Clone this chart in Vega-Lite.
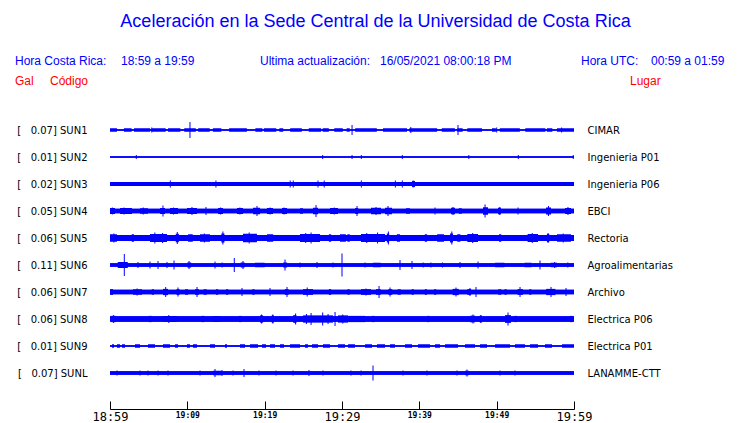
{
  "$schema": "https://vega.github.io/schema/vega-lite/v6.json",
  "autosize": "none",
  "width": 464,
  "height": 297,
  "padding": {"left": 110, "top": 103, "right": 166, "bottom": 23},
  "background": "white",
  "config": {"view": {"stroke": null}, "font": "Liberation Sans"},
  "datasets": {
    "stations": [
      {"s": "SUN1", "lab": "[\u00a0\u00a0\u00a00.07] SUN1", "place": "CIMAR", "base": 1.5},
      {"s": "SUN2", "lab": "[\u00a0\u00a0\u00a00.01] SUN2", "place": "Ingenieria P01", "base": 1.5},
      {"s": "SUN3", "lab": "[\u00a0\u00a0\u00a00.02] SUN3", "place": "Ingenieria P06", "base": 4},
      {"s": "SUN4", "lab": "[\u00a0\u00a0\u00a00.05] SUN4", "place": "EBCI", "base": 4.5},
      {"s": "SUN5", "lab": "[\u00a0\u00a0\u00a00.06] SUN5", "place": "Rectoria", "base": 6},
      {"s": "SUN6", "lab": "[\u00a0\u00a0\u00a00.11] SUN6", "place": "Agroalimentarias", "base": 3.5},
      {"s": "SUN7", "lab": "[\u00a0\u00a0\u00a00.06] SUN7", "place": "Archivo", "base": 4.5},
      {"s": "SUN8", "lab": "[\u00a0\u00a0\u00a00.06] SUN8", "place": "Electrica P06", "base": 5.5},
      {"s": "SUN9", "lab": "[\u00a0\u00a0\u00a00.01] SUN9", "place": "Electrica P01", "base": 1.5},
      {"s": "SUNL", "lab": "[\u00a0\u00a0\u00a00.07] SUNL", "place": "LANAMME-CTT", "base": 3.5}
    ],
    "seg": [
      {"s":"SUN1","t0":0,"t1":0.9,"a":3.5},{"s":"SUN1","t0":1.8,"t1":2.8,"a":3.5},{"s":"SUN1","t0":3.1,"t1":5.2,"a":3.5},{"s":"SUN1","t0":5.4,"t1":7.2,"a":3.5},{"s":"SUN1","t0":7.5,"t1":9.1,"a":3.5},{"s":"SUN1","t0":9.6,"t1":11.1,"a":3.5},{"s":"SUN1","t0":11.4,"t1":12.9,"a":3.5},{"s":"SUN1","t0":13.3,"t1":14.4,"a":3.5},{"s":"SUN1","t0":15.4,"t1":17.7,"a":3.5},{"s":"SUN1","t0":18.8,"t1":19.7,"a":3.5},{"s":"SUN1","t0":19.9,"t1":21.5,"a":3.5},{"s":"SUN1","t0":21.9,"t1":22.4,"a":3.5},{"s":"SUN1","t0":23.3,"t1":24.8,"a":3.5},{"s":"SUN1","t0":25.7,"t1":27.3,"a":3.5},{"s":"SUN1","t0":27.5,"t1":28.3,"a":3.5},{"s":"SUN1","t0":29.0,"t1":30.1,"a":3.5},{"s":"SUN1","t0":30.6,"t1":31.0,"a":3.5},{"s":"SUN1","t0":31.7,"t1":34.5,"a":3.5},{"s":"SUN1","t0":35.3,"t1":38.4,"a":3.5},{"s":"SUN1","t0":38.7,"t1":42.3,"a":3.5},{"s":"SUN1","t0":42.9,"t1":44.6,"a":3.5},{"s":"SUN1","t0":44.9,"t1":45.6,"a":3.5},{"s":"SUN1","t0":46.2,"t1":48.1,"a":3.5},{"s":"SUN1","t0":49.4,"t1":49.9,"a":3.5},{"s":"SUN1","t0":50.4,"t1":53.0,"a":3.5},{"s":"SUN1","t0":53.7,"t1":56.3,"a":3.5},{"s":"SUN1","t0":56.5,"t1":57.2,"a":3.5},{"s":"SUN1","t0":57.8,"t1":60,"a":3.5},
      {"s":"SUN3","t0":39.05,"t1":39.44,"a":6},
      {"s":"SUN4","t0":0,"t1":0.65,"a":6},{"s":"SUN4","t0":1.29,"t1":2.84,"a":6},{"s":"SUN4","t0":3.88,"t1":4.91,"a":5.5},{"s":"SUN4","t0":6.47,"t1":7.11,"a":6},{"s":"SUN4","t0":7.76,"t1":8.79,"a":6},{"s":"SUN4","t0":9.96,"t1":11.25,"a":6},{"s":"SUN4","t0":13.97,"t1":14.61,"a":6},{"s":"SUN4","t0":16.42,"t1":17.2,"a":6},{"s":"SUN4","t0":18.49,"t1":19.4,"a":6.5},{"s":"SUN4","t0":20.3,"t1":21.08,"a":6},{"s":"SUN4","t0":22.24,"t1":22.89,"a":6},{"s":"SUN4","t0":24.57,"t1":24.96,"a":5.5},{"s":"SUN4","t0":26.25,"t1":26.9,"a":6.5},{"s":"SUN4","t0":28.45,"t1":29.48,"a":6},{"s":"SUN4","t0":31.7,"t1":32.1,"a":6},{"s":"SUN4","t0":33.75,"t1":35.04,"a":6.5},{"s":"SUN4","t0":35.56,"t1":36.47,"a":6.5},{"s":"SUN4","t0":38.28,"t1":38.79,"a":5.5},{"s":"SUN4","t0":44.1,"t1":44.61,"a":6.5},{"s":"SUN4","t0":45.1,"t1":45.5,"a":5.5},{"s":"SUN4","t0":48.23,"t1":48.88,"a":7.5},{"s":"SUN4","t0":50.17,"t1":50.56,"a":6.5},{"s":"SUN4","t0":56.38,"t1":57.03,"a":7},{"s":"SUN4","t0":58.84,"t1":59.61,"a":6},
      {"s":"SUN5","t0":0,"t1":0.9,"a":7.5},{"s":"SUN5","t0":2.8,"t1":3.1,"a":7.5},{"s":"SUN5","t0":5.17,"t1":7.37,"a":8},{"s":"SUN5","t0":8.5,"t1":8.9,"a":8.5},{"s":"SUN5","t0":10.1,"t1":10.7,"a":7.5},{"s":"SUN5","t0":11.64,"t1":12.93,"a":7.5},{"s":"SUN5","t0":14.4,"t1":14.8,"a":9},{"s":"SUN5","t0":17.2,"t1":19.0,"a":8.5},{"s":"SUN5","t0":20.3,"t1":21.1,"a":7.5},{"s":"SUN5","t0":24.57,"t1":27.16,"a":8},{"s":"SUN5","t0":28.3,"t1":28.6,"a":7.5},{"s":"SUN5","t0":29.74,"t1":30.5,"a":7.5},{"s":"SUN5","t0":30.7,"t1":31.0,"a":7.5},{"s":"SUN5","t0":32.46,"t1":35.56,"a":8},{"s":"SUN5","t0":35.8,"t1":36.1,"a":9},{"s":"SUN5","t0":37.1,"t1":37.5,"a":7.5},{"s":"SUN5","t0":40.7,"t1":41.0,"a":7.5},{"s":"SUN5","t0":42.3,"t1":43.2,"a":7.5},{"s":"SUN5","t0":43.97,"t1":44.35,"a":9},{"s":"SUN5","t0":44.9,"t1":45.3,"a":7.5},{"s":"SUN5","t0":46.2,"t1":47.59,"a":8},{"s":"SUN5","t0":50.3,"t1":50.6,"a":7.5},{"s":"SUN5","t0":54.0,"t1":55.35,"a":8},{"s":"SUN5","t0":56.5,"t1":56.8,"a":8},{"s":"SUN5","t0":57.8,"t1":59.6,"a":7.5},
      {"s":"SUN6","t0":1.0,"t1":2.3,"a":6},{"s":"SUN6","t0":10.0,"t1":10.5,"a":5},{"s":"SUN6","t0":16.9,"t1":17.4,"a":5},{"s":"SUN6","t0":18.75,"t1":20.0,"a":4.5},{"s":"SUN6","t0":22.4,"t1":22.9,"a":5},{"s":"SUN6","t0":34.0,"t1":35.0,"a":4.5},{"s":"SUN6","t0":49.8,"t1":51.0,"a":4.5},{"s":"SUN6","t0":53.6,"t1":54.5,"a":4.5},{"s":"SUN6","t0":57.0,"t1":57.8,"a":4.5},
      {"s":"SUN7","t0":0,"t1":0.4,"a":5.75},{"s":"SUN7","t0":2.97,"t1":4.14,"a":5.5},{"s":"SUN7","t0":5.4,"t1":5.7,"a":5.5},{"s":"SUN7","t0":6.85,"t1":7.5,"a":6.25},{"s":"SUN7","t0":8.6,"t1":9.0,"a":5.75},{"s":"SUN7","t0":9.7,"t1":10.1,"a":5.5},{"s":"SUN7","t0":11.0,"t1":11.5,"a":5.75},{"s":"SUN7","t0":12.1,"t1":12.5,"a":5.5},{"s":"SUN7","t0":13.7,"t1":14.0,"a":5.5},{"s":"SUN7","t0":15.0,"t1":15.3,"a":5.5},{"s":"SUN7","t0":18.4,"t1":18.7,"a":5.5},{"s":"SUN7","t0":22.6,"t1":23.1,"a":5.75},{"s":"SUN7","t0":24.96,"t1":26.25,"a":5.75},{"s":"SUN7","t0":28.3,"t1":28.6,"a":5.75},{"s":"SUN7","t0":30.7,"t1":31.0,"a":5.5},{"s":"SUN7","t0":32.46,"t1":33.75,"a":5.75},{"s":"SUN7","t0":34.4,"t1":35.0,"a":5.75},{"s":"SUN7","t0":36.0,"t1":36.5,"a":5.75},{"s":"SUN7","t0":37.2,"t1":37.6,"a":5.5},{"s":"SUN7","t0":39.0,"t1":39.3,"a":5.5},{"s":"SUN7","t0":40.7,"t1":41.0,"a":5.5},{"s":"SUN7","t0":41.9,"t1":42.2,"a":5.5},{"s":"SUN7","t0":44.3,"t1":45.1,"a":6.25},{"s":"SUN7","t0":46.2,"t1":46.7,"a":5.75},{"s":"SUN7","t0":50.2,"t1":50.6,"a":5.5},{"s":"SUN7","t0":51.0,"t1":51.3,"a":5.5},{"s":"SUN7","t0":52.7,"t1":53.4,"a":5.75},{"s":"SUN7","t0":54.2,"t1":54.5,"a":5.5},{"s":"SUN7","t0":56.4,"t1":57.6,"a":6.25},
      {"s":"SUN8","t0":0.2,"t1":0.7,"a":6.5},{"s":"SUN8","t0":5.0,"t1":5.4,"a":6.25},{"s":"SUN8","t0":6.85,"t1":8.66,"a":6},{"s":"SUN8","t0":11.8,"t1":12.2,"a":6.25},{"s":"SUN8","t0":13.3,"t1":14.2,"a":6},{"s":"SUN8","t0":16.7,"t1":17.0,"a":6.25},{"s":"SUN8","t0":19.4,"t1":19.8,"a":7.25},{"s":"SUN8","t0":20.9,"t1":21.2,"a":7.25},{"s":"SUN8","t0":23.7,"t1":24.1,"a":7.75},{"s":"SUN8","t0":24.96,"t1":28.84,"a":7.25},{"s":"SUN8","t0":29.48,"t1":30.78,"a":7.25},{"s":"SUN8","t0":30.8,"t1":33.0,"a":6.25},{"s":"SUN8","t0":33.9,"t1":34.2,"a":6.25},{"s":"SUN8","t0":41.0,"t1":41.3,"a":6.25},{"s":"SUN8","t0":46.6,"t1":47.2,"a":6.75},{"s":"SUN8","t0":47.8,"t1":48.1,"a":6.75},{"s":"SUN8","t0":51.08,"t1":51.85,"a":7.75},{"s":"SUN8","t0":52.3,"t1":52.6,"a":6.25},{"s":"SUN8","t0":59.5,"t1":59.8,"a":6.25},
      {"s":"SUN9","t0":0.26,"t1":0.52,"a":3.5},{"s":"SUN9","t0":0.91,"t1":1.29,"a":3.5},{"s":"SUN9","t0":1.55,"t1":1.94,"a":3.5},{"s":"SUN9","t0":3.23,"t1":3.88,"a":3.5},{"s":"SUN9","t0":4.91,"t1":5.82,"a":3.5},{"s":"SUN9","t0":6.85,"t1":7.76,"a":3.5},{"s":"SUN9","t0":8.41,"t1":8.79,"a":3.5},{"s":"SUN9","t0":9.96,"t1":10.34,"a":3.5},{"s":"SUN9","t0":10.73,"t1":11.25,"a":3.5},{"s":"SUN9","t0":12.93,"t1":13.58,"a":3.5},{"s":"SUN9","t0":14.87,"t1":15.13,"a":3.5},{"s":"SUN9","t0":16.81,"t1":17.46,"a":3.5},{"s":"SUN9","t0":18.1,"t1":19.14,"a":3.5},{"s":"SUN9","t0":19.66,"t1":20.17,"a":3.5},{"s":"SUN9","t0":20.69,"t1":21.34,"a":3.5},{"s":"SUN9","t0":21.98,"t1":22.5,"a":3.5},{"s":"SUN9","t0":23.28,"t1":24.57,"a":3.5},{"s":"SUN9","t0":25.22,"t1":25.6,"a":3.5},{"s":"SUN9","t0":26.12,"t1":26.9,"a":3.5},{"s":"SUN9","t0":27.54,"t1":28.45,"a":3.5},{"s":"SUN9","t0":29.48,"t1":30.39,"a":3.5},{"s":"SUN9","t0":30.78,"t1":31.68,"a":3.5},{"s":"SUN9","t0":32.98,"t1":33.88,"a":3.5},{"s":"SUN9","t0":34.53,"t1":35.56,"a":3.5},{"s":"SUN9","t0":36.21,"t1":36.85,"a":3.5},{"s":"SUN9","t0":38.15,"t1":39.05,"a":3.5},{"s":"SUN9","t0":39.83,"t1":41.38,"a":3.5},{"s":"SUN9","t0":42.03,"t1":42.67,"a":3.5},{"s":"SUN9","t0":43.32,"t1":45.0,"a":3.5},{"s":"SUN9","t0":45.91,"t1":47.2,"a":3.5},{"s":"SUN9","t0":47.84,"t1":48.75,"a":3.5},{"s":"SUN9","t0":49.79,"t1":51.72,"a":3.5},{"s":"SUN9","t0":52.37,"t1":53.66,"a":3.5},{"s":"SUN9","t0":54.31,"t1":55.35,"a":3.5},{"s":"SUN9","t0":56.25,"t1":57.16,"a":3.5},{"s":"SUN9","t0":58.45,"t1":60,"a":3.5},
      {"s":"SUNL","t0":13.3,"t1":14.4,"a":4.5},{"s":"SUNL","t0":45.9,"t1":46.4,"a":4.5}
    ],
    "spk": [
      {"s":"SUN1","t":5.4,"a":5},{"s":"SUN1","t":10.34,"a":16},{"s":"SUN1","t":31.3,"a":10},{"s":"SUN1","t":38.9,"a":6},{"s":"SUN1","t":45.0,"a":10},{"s":"SUN1","t":50.0,"a":5},{"s":"SUN1","t":58.4,"a":5},
      {"s":"SUN2","t":3.4,"a":4},{"s":"SUN2","t":27.5,"a":4},{"s":"SUN2","t":31.3,"a":4},{"s":"SUN2","t":32.5,"a":4},{"s":"SUN2","t":37.8,"a":4},{"s":"SUN2","t":46.4,"a":4},{"s":"SUN2","t":52.8,"a":4},{"s":"SUN2","t":59.9,"a":4},
      {"s":"SUN3","t":7.8,"a":7},{"s":"SUN3","t":13.7,"a":7},{"s":"SUN3","t":23.3,"a":7},{"s":"SUN3","t":23.7,"a":7},{"s":"SUN3","t":26.9,"a":7},{"s":"SUN3","t":27.7,"a":7},{"s":"SUN3","t":32.5,"a":7},{"s":"SUN3","t":36.9,"a":7},{"s":"SUN3","t":37.8,"a":7},{"s":"SUN3","t":39.2,"a":7},
      {"s":"SUN4","t":0.3,"a":7},{"s":"SUN4","t":1.8,"a":7},{"s":"SUN4","t":4.3,"a":7},{"s":"SUN4","t":6.85,"a":11},{"s":"SUN4","t":8.2,"a":7},{"s":"SUN4","t":10.6,"a":8},{"s":"SUN4","t":12.41,"a":8},{"s":"SUN4","t":14.3,"a":7},{"s":"SUN4","t":16.8,"a":7},{"s":"SUN4","t":19.01,"a":10},{"s":"SUN4","t":20.7,"a":7},{"s":"SUN4","t":22.5,"a":7},{"s":"SUN4","t":26.64,"a":12},{"s":"SUN4","t":29.0,"a":7},{"s":"SUN4","t":31.94,"a":10},{"s":"SUN4","t":34.4,"a":8},{"s":"SUN4","t":35.95,"a":10},{"s":"SUN4","t":42.03,"a":7},{"s":"SUN4","t":44.35,"a":8},{"s":"SUN4","t":48.5,"a":13},{"s":"SUN4","t":50.4,"a":8},{"s":"SUN4","t":52.76,"a":7},{"s":"SUN4","t":56.7,"a":10},{"s":"SUN4","t":59.22,"a":8},
      {"s":"SUN5","t":0.5,"a":9},{"s":"SUN5","t":5.8,"a":11},{"s":"SUN5","t":6.8,"a":10},{"s":"SUN5","t":8.7,"a":12},{"s":"SUN5","t":12.2,"a":9},{"s":"SUN5","t":14.6,"a":13},{"s":"SUN5","t":18.0,"a":11},{"s":"SUN5","t":25.3,"a":10},{"s":"SUN5","t":26.0,"a":11},{"s":"SUN5","t":33.2,"a":10},{"s":"SUN5","t":34.6,"a":11},{"s":"SUN5","t":36.0,"a":13},{"s":"SUN5","t":44.2,"a":13},{"s":"SUN5","t":46.9,"a":10},{"s":"SUN5","t":54.6,"a":10},{"s":"SUN5","t":56.65,"a":10},{"s":"SUN5","t":58.6,"a":9},
      {"s":"SUN6","t":1.85,"a":22},{"s":"SUN6","t":3.62,"a":6},{"s":"SUN6","t":5.17,"a":7},{"s":"SUN6","t":6.21,"a":8},{"s":"SUN6","t":7.37,"a":6},{"s":"SUN6","t":8.28,"a":9},{"s":"SUN6","t":10.22,"a":8},{"s":"SUN6","t":13.58,"a":7},{"s":"SUN6","t":14.5,"a":5},{"s":"SUN6","t":16.07,"a":14},{"s":"SUN6","t":17.2,"a":8},{"s":"SUN6","t":22.63,"a":11},{"s":"SUN6","t":24.57,"a":5},{"s":"SUN6","t":26.77,"a":6},{"s":"SUN6","t":28.84,"a":5},{"s":"SUN6","t":30.0,"a":23},{"s":"SUN6","t":32.98,"a":5},{"s":"SUN6","t":37.5,"a":10},{"s":"SUN6","t":39.05,"a":8},{"s":"SUN6","t":40.5,"a":5},{"s":"SUN6","t":41.5,"a":5},{"s":"SUN6","t":43.0,"a":5},{"s":"SUN6","t":45.26,"a":6},{"s":"SUN6","t":47.59,"a":7},{"s":"SUN6","t":55.6,"a":9},{"s":"SUN6","t":57.5,"a":6},{"s":"SUN6","t":59.2,"a":5},
      {"s":"SUN7","t":3.5,"a":7},{"s":"SUN7","t":7.2,"a":10},{"s":"SUN7","t":8.79,"a":9},{"s":"SUN7","t":11.25,"a":10},{"s":"SUN7","t":17.07,"a":8},{"s":"SUN7","t":20.69,"a":8},{"s":"SUN7","t":22.89,"a":10},{"s":"SUN7","t":25.5,"a":9},{"s":"SUN7","t":33.1,"a":7},{"s":"SUN7","t":34.79,"a":12},{"s":"SUN7","t":36.21,"a":9},{"s":"SUN7","t":44.74,"a":9},{"s":"SUN7","t":46.55,"a":8},{"s":"SUN7","t":47.33,"a":10},{"s":"SUN7","t":53.02,"a":10},{"s":"SUN7","t":57.03,"a":10},{"s":"SUN7","t":58.97,"a":8},
      {"s":"SUN8","t":0.45,"a":7.5},{"s":"SUN8","t":7.6,"a":8},{"s":"SUN8","t":19.6,"a":9},{"s":"SUN8","t":21.05,"a":9},{"s":"SUN8","t":24.0,"a":11},{"s":"SUN8","t":25.4,"a":10},{"s":"SUN8","t":26.0,"a":12},{"s":"SUN8","t":27.5,"a":13},{"s":"SUN8","t":28.2,"a":10},{"s":"SUN8","t":29.1,"a":14},{"s":"SUN8","t":30.1,"a":9},{"s":"SUN8","t":46.94,"a":9},{"s":"SUN8","t":47.95,"a":8},{"s":"SUN8","t":51.47,"a":13},
      {"s":"SUNL","t":0.91,"a":5},{"s":"SUNL","t":3.88,"a":5},{"s":"SUNL","t":4.91,"a":5},{"s":"SUNL","t":6.21,"a":5},{"s":"SUNL","t":7.5,"a":5},{"s":"SUNL","t":11.64,"a":5},{"s":"SUNL","t":13.58,"a":8},{"s":"SUNL","t":14.48,"a":6},{"s":"SUNL","t":15.9,"a":5},{"s":"SUNL","t":17.33,"a":8},{"s":"SUNL","t":19.27,"a":5},{"s":"SUNL","t":21.47,"a":5},{"s":"SUNL","t":23.66,"a":5},{"s":"SUNL","t":25.73,"a":6},{"s":"SUNL","t":27.54,"a":5},{"s":"SUNL","t":31.16,"a":5},{"s":"SUNL","t":32.46,"a":5},{"s":"SUNL","t":34.01,"a":15},{"s":"SUNL","t":37.89,"a":5},{"s":"SUNL","t":40.99,"a":5},{"s":"SUNL","t":44.87,"a":5},{"s":"SUNL","t":46.16,"a":7},{"s":"SUNL","t":50.43,"a":5},{"s":"SUNL","t":52.37,"a":5}
    ]
  },
  "layer": [
    {
      "data": {"name": "stations"},
      "mark": {"type": "rule", "color": "#0000ff"},
      "encoding": {
        "y": {"field": "lab", "type": "nominal", "sort": null, "scale": {"type": "point", "padding": 1},
              "axis": {"orient": "left", "title": null, "domain": false, "ticks": false, "labelPadding": 23, "labelFont": "DejaVu Sans", "labelFontSize": 10, "labelColor": "#000000"}},
        "x": {"datum": 0, "type": "quantitative", "scale": {"domain": [0, 60], "nice": false, "zero": false},
              "axis": {"title": null, "grid": false, "offset": 9, "values": [0,5,10,15,20,25,30,35,40,45,50,55,60],
                       "labelExpr": "datum.value % 10 != 0 ? '' : floor((1139 + datum.value) / 60) + ':' + ((1139 + datum.value) % 60 < 10 ? '0' : '') + ((1139 + datum.value) % 60)",
                       "labelFont": "DejaVu Sans Mono",
                       "labelFontSize": {"condition": {"test": "datum.value % 30 == 0", "value": 12}, "value": 8},
                       "labelFontWeight": {"condition": {"test": "datum.value % 30 == 0", "value": "normal"}, "value": "bold"},
                       "labelColor": "#000000", "labelOverlap": false, "labelFlush": false,
                       "domainColor": "#000000", "tickColor": "#000000", "tickSize": -8, "labelPadding": 10}},
        "x2": {"datum": 60},
        "strokeWidth": {"field": "base", "type": "quantitative", "scale": null, "legend": null}
      }
    },
    {
      "data": {"name": "stations"},
      "mark": {"type": "rule", "color": "#0000ff"},
      "encoding": {
        "y": {"field": "place", "type": "nominal", "sort": null, "scale": {"type": "point", "padding": 1},
              "axis": {"orient": "right", "title": null, "domain": false, "ticks": false, "labelPadding": 13, "labelFont": "DejaVu Sans", "labelFontSize": 10, "labelColor": "#000000"}},
        "x": {"datum": 0, "type": "quantitative"},
        "x2": {"datum": 60},
        "strokeWidth": {"field": "base", "type": "quantitative", "scale": null, "legend": null}
      }
    },
    {
      "data": {"name": "seg"},
      "mark": {"type": "rule", "color": "#0000ff"},
      "encoding": {
        "y": {"field": "s", "type": "nominal", "scale": {"type": "point", "padding": 1, "domain": ["SUN1","SUN2","SUN3","SUN4","SUN5","SUN6","SUN7","SUN8","SUN9","SUNL"]}, "axis": null},
        "x": {"field": "t0", "type": "quantitative"},
        "x2": {"field": "t1"},
        "strokeWidth": {"field": "a", "type": "quantitative", "scale": null, "legend": null}
      }
    },
    {
      "data": {"name": "spk"},
      "mark": {"type": "tick", "orient": "vertical", "color": "#0000ff", "thickness": 1, "opacity": 1},
      "encoding": {
        "y": {"field": "s", "type": "nominal", "scale": {"type": "point", "padding": 1, "domain": ["SUN1","SUN2","SUN3","SUN4","SUN5","SUN6","SUN7","SUN8","SUN9","SUNL"]}, "axis": null},
        "x": {"field": "t", "type": "quantitative"},
        "size": {"field": "a", "type": "quantitative", "scale": null, "legend": null}
      }
    },
    {"data": {"values": [{}]}, "mark": {"type": "text", "text": "Aceleración en la Sede Central de la Universidad de Costa Rica", "x": 265.5, "y": -76, "align": "center", "baseline": "alphabetic", "fontSize": 18, "color": "#0000ff", "font": "Liberation Sans"}},
    {"data": {"values": [{}]}, "mark": {"type": "text", "text": "Hora Costa Rica:", "x": -95, "y": -38, "align": "left", "baseline": "alphabetic", "fontSize": 12, "color": "#0000ff", "font": "Liberation Sans"}},
    {"data": {"values": [{}]}, "mark": {"type": "text", "text": "18:59 a 19:59", "x": 11, "y": -38, "align": "left", "baseline": "alphabetic", "fontSize": 12, "color": "#0000ff", "font": "Liberation Sans"}},
    {"data": {"values": [{}]}, "mark": {"type": "text", "text": "Ultima actualización:", "x": 150, "y": -38, "align": "left", "baseline": "alphabetic", "fontSize": 12, "color": "#0000ff", "font": "Liberation Sans"}},
    {"data": {"values": [{}]}, "mark": {"type": "text", "text": "16/05/2021 08:00:18 PM", "x": 270, "y": -38, "align": "left", "baseline": "alphabetic", "fontSize": 12, "color": "#0000ff", "font": "Liberation Sans"}},
    {"data": {"values": [{}]}, "mark": {"type": "text", "text": "Hora UTC:", "x": 471, "y": -38, "align": "left", "baseline": "alphabetic", "fontSize": 12, "color": "#0000ff", "font": "Liberation Sans"}},
    {"data": {"values": [{}]}, "mark": {"type": "text", "text": "00:59 a 01:59", "x": 541, "y": -38, "align": "left", "baseline": "alphabetic", "fontSize": 12, "color": "#0000ff", "font": "Liberation Sans"}},
    {"data": {"values": [{}]}, "mark": {"type": "text", "text": "Gal", "x": -95, "y": -18, "align": "left", "baseline": "alphabetic", "fontSize": 12, "color": "#ff0000", "font": "Liberation Sans"}},
    {"data": {"values": [{}]}, "mark": {"type": "text", "text": "Código", "x": -60, "y": -18, "align": "left", "baseline": "alphabetic", "fontSize": 12, "color": "#ff0000", "font": "Liberation Sans"}},
    {"data": {"values": [{}]}, "mark": {"type": "text", "text": "Lugar", "x": 520, "y": -18, "align": "left", "baseline": "alphabetic", "fontSize": 12, "color": "#ff0000", "font": "Liberation Sans"}}
  ],
  "resolve": {"scale": {"y": "independent", "strokeWidth": "independent"}, "axis": {"y": "independent"}}
}
